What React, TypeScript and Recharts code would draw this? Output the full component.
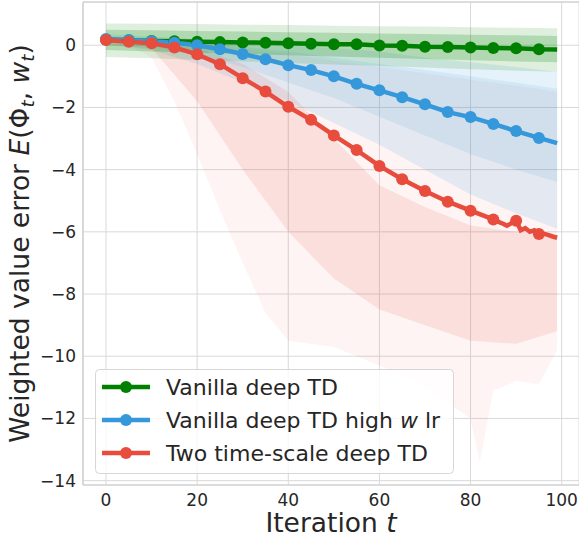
import React from 'react';
import { ComposedChart, Line, Area, XAxis, YAxis, CartesianGrid, ReferenceLine } from 'recharts';

// mean curves, markers every 5 iterations
const T_MAIN = [0, 5, 10, 15, 20, 25, 30, 35, 40, 45, 50, 55, 60, 65, 70, 75, 80, 85, 90, 95, 99];
const GREEN_MEAN = [0.18, 0.16, 0.14, 0.13, 0.11, 0.1, 0.09, 0.08, 0.06, 0.05, 0.03, 0.03, -0.01, -0.02, -0.05, -0.06, -0.07, -0.09, -0.1, -0.13, -0.14];
const BLUE_MEAN = [0.2, 0.17, 0.13, 0.08, 0.0, -0.13, -0.28, -0.45, -0.64, -0.8, -1.0, -1.24, -1.45, -1.67, -1.9, -2.15, -2.31, -2.53, -2.76, -2.98, -3.15];

const T_RED = [0, 5, 10, 15, 20, 25, 30, 35, 40, 45, 50, 55, 60, 65, 70, 75, 80, 85, 86, 87, 88, 89, 90, 91, 92, 93, 94, 95, 96, 97, 98, 99];
const RED_MEAN = [0.17, 0.11, 0.06, -0.07, -0.29, -0.61, -1.06, -1.49, -1.98, -2.4, -2.9, -3.37, -3.88, -4.31, -4.69, -5.03, -5.32, -5.6, -5.67, -5.73, -5.8, -5.72, -5.64, -5.95, -5.88, -6.0, -5.95, -6.07, -6.06, -6.1, -6.15, -6.19];

// spread of the individual runs (faint lines)
const T_BAND = [0, 10, 20, 30, 40, 50, 60, 70, 80, 90, 99];
const GREEN_HI = [0.7, 0.69, 0.68, 0.66, 0.65, 0.63, 0.61, 0.6, 0.58, 0.56, 0.55];
const GREEN_LO = [-0.38, -0.42, -0.47, -0.52, -0.57, -0.62, -0.67, -0.72, -0.77, -0.82, -0.85];
const GREEN_CORE_HI = [0.5, 0.48, 0.46, 0.44, 0.42, 0.4, 0.38, 0.36, 0.34, 0.32, 0.3];
const GREEN_CORE_LO = [-0.15, -0.2, -0.24, -0.28, -0.32, -0.36, -0.4, -0.44, -0.48, -0.52, -0.55];
const BLUE_HI = [0.35, 0.28, 0.2, 0.1, 0.0, -0.1, -0.2, -0.4, -0.55, -0.7, -0.85];
const BLUE_LO = [0.05, -0.15, -0.6, -1.2, -1.8, -2.5, -3.2, -4.0, -4.8, -5.4, -5.9];
const BLUE_CORE_HI = [0.25, 0.2, 0.1, -0.05, -0.2, -0.4, -0.6, -0.8, -1.0, -1.2, -1.4];
const BLUE_CORE_LO = [0.1, -0.05, -0.3, -0.7, -1.2, -1.7, -2.3, -2.9, -3.5, -4.0, -4.4];
const RED_CORE_HI = [0.2, 0.1, -0.1, -0.6, -1.5, -3.0, -4.5, -5.2, -5.8, -6.0, -6.1];
const RED_CORE_LO = [0.0, -0.1, -1.8, -4.0, -6.0, -7.5, -8.5, -9.0, -9.5, -9.6, -9.2];
const T_RED_BAND = [0, 5, 10, 15, 20, 25, 30, 35, 40, 50, 60, 70, 80, 82, 85, 90, 95, 99];
const RED_HI = [0.3, 0.28, 0.25, 0.2, 0.1, 0.0, -0.1, -0.2, -0.3, -0.5, -0.7, -0.9, -1.1, -1.15, -1.2, -1.3, -1.4, -1.5];
const RED_LO = [0.0, 0.0, -0.4, -1.8, -3.5, -5.3, -7.0, -8.6, -9.5, -9.7, -10.3, -11.0, -12.0, -13.4, -11.1, -10.8, -10.9, -9.8];

const X_TICKS = [0, 20, 40, 60, 80, 100];
const Y_TICKS = [0, -2, -4, -6, -8, -10, -12, -14];

const GREEN = '#008000';
const BLUE = '#3498db';
const RED = '#e74c3c';
const TEXT = '#262626';
const FONT = '"DejaVu Sans", sans-serif';

const rows = new Map<number, any>();
function put(ts: number[], vals: any[], key: string) {
  ts.forEach((t, i) => {
    const r = rows.get(t) ?? { t };
    r[key] = vals[i];
    rows.set(t, r);
  });
}
put(T_MAIN, GREEN_MEAN, 'green');
put(T_MAIN, BLUE_MEAN, 'blue');
put(T_RED, RED_MEAN, 'red');
put(T_BAND, GREEN_LO.map((v, i) => [v, GREEN_HI[i]]), 'greenBand');
put(T_BAND, GREEN_CORE_LO.map((v, i) => [v, GREEN_CORE_HI[i]]), 'greenCore');
put(T_BAND, BLUE_LO.map((v, i) => [v, BLUE_HI[i]]), 'blueBand');
put(T_BAND, BLUE_CORE_LO.map((v, i) => [v, BLUE_CORE_HI[i]]), 'blueCore');
put(T_BAND, RED_CORE_LO.map((v, i) => [v, RED_CORE_HI[i]]), 'redCore');
put(T_RED_BAND, RED_LO.map((v, i) => [v, RED_HI[i]]), 'redBand');
const data = [...rows.values()].sort((a, b) => a.t - b.t);

const fmt = (v: number) => (v < 0 ? `\u2212${Math.abs(v)}` : `${v}`);

const markerDot = (color: string) => (props: any) => {
  const { cx, cy, payload, index } = props;
  if (cx == null || cy == null || payload.t % 5 !== 0) return <g key={`n${index}`} />;
  return <circle key={`d${index}`} cx={cx} cy={cy} r={6} fill={color} stroke="none" />;
};

const LEGEND = [
  { color: GREEN, parts: [{ s: 'Vanilla deep TD' }] },
  { color: BLUE, parts: [{ s: 'Vanilla deep TD high ' }, { s: 'w', i: true }, { s: ' lr' }] },
  { color: RED, parts: [{ s: 'Two time-scale deep TD' }] },
];

export default function App() {
  return (
    <div style={{ position: 'absolute', left: 0, top: 0, width: 579, height: 540, overflow: 'hidden', background: '#fff' }}>
      <ComposedChart width={579} height={540} data={data} margin={{ top: 2, right: 0, left: 0, bottom: 0 }}>
        <CartesianGrid stroke="#d9d9d9" strokeWidth={1} />
        <XAxis
          dataKey="t"
          type="number"
          domain={[-5.05, 103.8]}
          ticks={X_TICKS}
          allowDataOverflow
          height={55}
          tickSize={0}
          tickMargin={9}
          axisLine={{ stroke: '#cccccc', strokeWidth: 1.2 }}
          tick={{ fill: TEXT, fontSize: 17, fontFamily: FONT }}
        />
        <YAxis
          type="number"
          domain={[-14.14, 1.39]}
          ticks={Y_TICKS}
          allowDataOverflow
          width={83}
          tickSize={0}
          tickMargin={7}
          tickFormatter={fmt}
          axisLine={{ stroke: '#cccccc', strokeWidth: 1.2 }}
          tick={{ fill: TEXT, fontSize: 17, fontFamily: FONT }}
        />
        <ReferenceLine y={1.39} stroke="#cccccc" strokeWidth={1.2} />
        <Area dataKey="redBand" connectNulls stroke="none" fill={RED} fillOpacity={0.06} isAnimationActive={false} />
        <Area dataKey="redCore" connectNulls stroke="none" fill={RED} fillOpacity={0.12} isAnimationActive={false} />
        <Area dataKey="blueBand" connectNulls stroke="none" fill={BLUE} fillOpacity={0.13} isAnimationActive={false} />
        <Area dataKey="blueCore" connectNulls stroke="none" fill={BLUE} fillOpacity={0.1} isAnimationActive={false} />
        <Area dataKey="greenBand" connectNulls stroke="none" fill={GREEN} fillOpacity={0.13} isAnimationActive={false} />
        <Area dataKey="greenCore" connectNulls stroke="none" fill={GREEN} fillOpacity={0.2} isAnimationActive={false} />
        <Line dataKey="green" connectNulls stroke={GREEN} strokeWidth={4.5} dot={markerDot(GREEN)} activeDot={false} isAnimationActive={false} />
        <Line dataKey="blue" connectNulls stroke={BLUE} strokeWidth={4.5} dot={markerDot(BLUE)} activeDot={false} isAnimationActive={false} />
        <Line dataKey="red" connectNulls stroke={RED} strokeWidth={4.5} dot={markerDot(RED)} activeDot={false} isAnimationActive={false} />
      </ComposedChart>

      <svg width={579} height={540} style={{ position: 'absolute', left: 0, top: 0, pointerEvents: 'none' }} fontFamily={FONT}>
        <text transform="rotate(-90)" x={-243.5} y={29} textAnchor="middle" fontSize={26.5} fill={TEXT}>
          Weighted value error <tspan fontStyle="italic">E</tspan>(Φ
          <tspan fontStyle="italic" fontSize={18.5} dy={5}>t</tspan>
          <tspan dy={-5}>, </tspan>
          <tspan fontStyle="italic">w</tspan>
          <tspan fontStyle="italic" fontSize={18.5} dy={5}>t</tspan>
          <tspan dy={-5}>)</tspan>
        </text>
        <text x={331} y={532} textAnchor="middle" fontSize={26.5} fill={TEXT}>
          Iteration <tspan fontStyle="italic">t</tspan>
        </text>

        <rect x={95.5} y={369.5} width={358} height={104} rx={4} fill="#ffffff" fillOpacity={0.8} stroke="#d6d6d6" />
        {LEGEND.map((e, i) => {
          const cy = 387 + i * 33;
          return (
            <g key={i}>
              <line x1={102} x2={150} y1={cy} y2={cy} stroke={e.color} strokeWidth={4.5} />
              <circle cx={126} cy={cy} r={6} fill={e.color} />
              <text x={166} y={cy + 8} fontSize={22} fill={TEXT}>
                {e.parts.map((p, j) => (
                  <tspan key={j} fontStyle={p.i ? 'italic' : 'normal'}>{p.s}</tspan>
                ))}
              </text>
            </g>
          );
        })}
      </svg>
    </div>
  );
}
